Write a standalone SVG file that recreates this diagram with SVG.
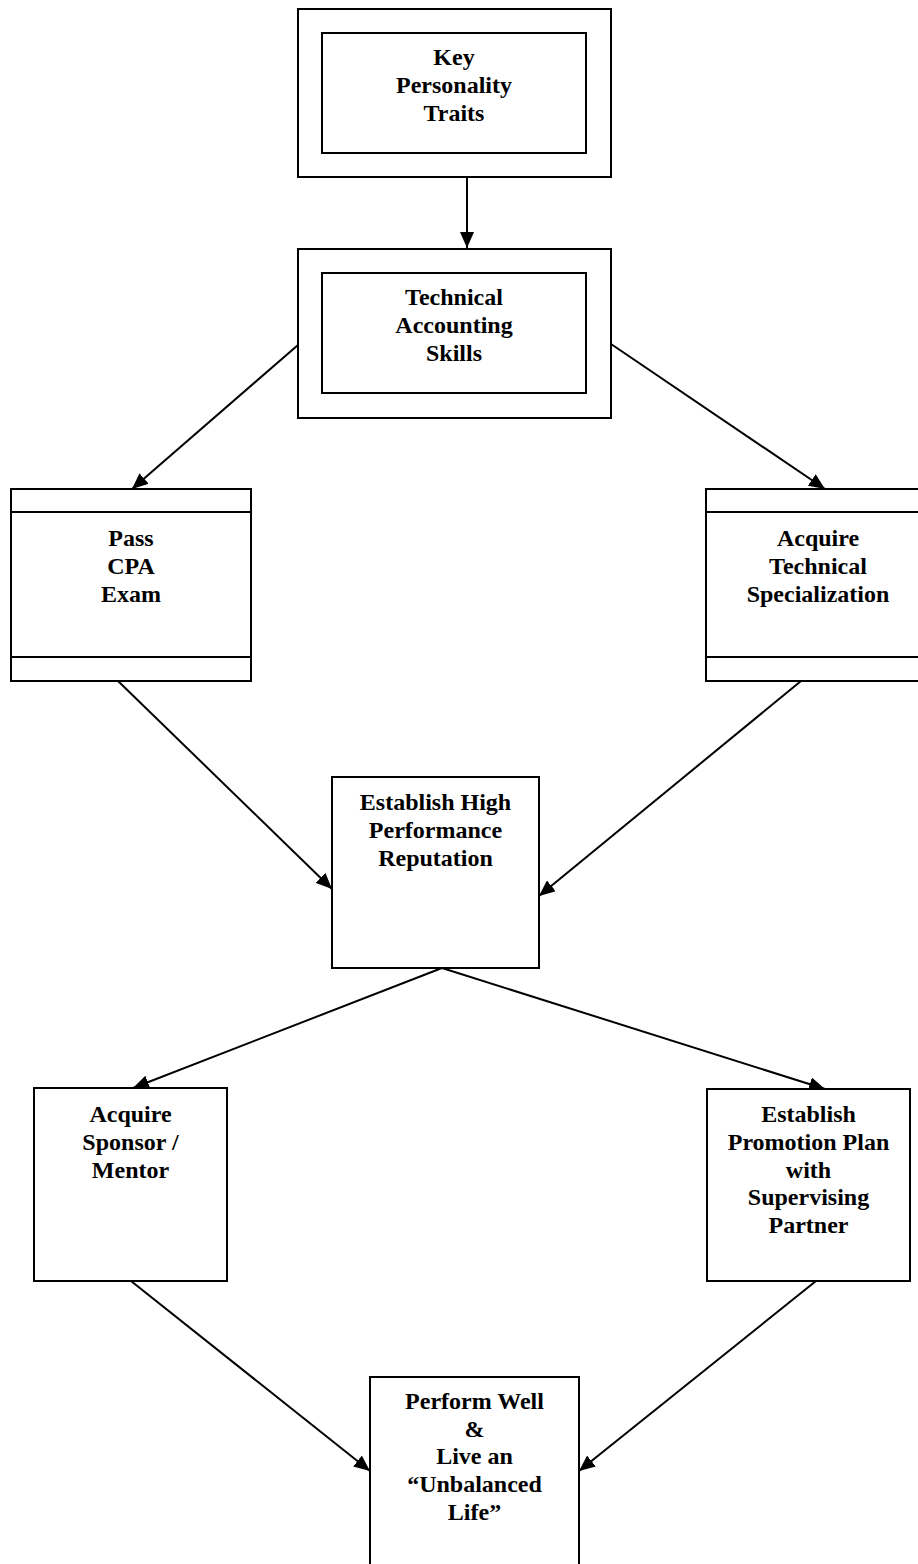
<svg xmlns="http://www.w3.org/2000/svg" width="918" height="1564" viewBox="0 0 918 1564">
<style>
.box{fill:#fff;stroke:#000;stroke-width:2}
.in{fill:none;stroke:#000;stroke-width:2}
.t{font-family:"Liberation Serif","Times New Roman",serif;font-weight:bold;font-size:24px;fill:#000;text-anchor:middle}
.c{stroke:#000;stroke-width:2;fill:none;marker-end:url(#ah)}
</style>
<defs>
<marker id="ah" markerUnits="userSpaceOnUse" markerWidth="17" markerHeight="14" refX="16" refY="7" orient="auto">
<path d="M0,0 L16,7 L0,14 z" fill="#000"/>
</marker>
</defs>
<rect width="918" height="1564" fill="#fff"/>
<g id="connectors">
<line class="c" x1="467" y1="177" x2="467" y2="248"/>
<line class="c" x1="298" y1="345" x2="132" y2="489"/>
<line class="c" x1="611" y1="344" x2="825" y2="489"/>
<line class="c" x1="118" y1="681" x2="332" y2="889"/>
<line class="c" x1="801" y1="681" x2="539" y2="896"/>
<line class="c" x1="442" y1="968" x2="133" y2="1088"/>
<line class="c" x1="442" y1="968" x2="825" y2="1089"/>
<line class="c" x1="131" y1="1281" x2="370" y2="1471"/>
<line class="c" x1="816" y1="1281" x2="579" y2="1471"/>
</g>
<g id="key-personality-traits">
<rect class="box" x="298" y="9" width="313" height="168"/>
<rect class="in" x="322" y="33" width="264" height="120"/>
<text class="t" x="454" y="65">Key</text>
<text class="t" x="454" y="93">Personality</text>
<text class="t" x="454" y="121">Traits</text>
</g>
<g id="technical-accounting-skills">
<rect class="box" x="298" y="249" width="313" height="169"/>
<rect class="in" x="322" y="273" width="264" height="120"/>
<text class="t" x="454" y="305">Technical</text>
<text class="t" x="454" y="333">Accounting</text>
<text class="t" x="454" y="361">Skills</text>
</g>
<g id="pass-cpa-exam">
<rect class="box" x="11" y="489" width="240" height="192"/>
<line class="in" x1="11" y1="512" x2="251" y2="512"/>
<line class="in" x1="11" y1="657" x2="251" y2="657"/>
<text class="t" x="131" y="546">Pass</text>
<text class="t" x="131" y="574">CPA</text>
<text class="t" x="131" y="602">Exam</text>
</g>
<g id="acquire-technical-specialization">
<rect class="box" x="706" y="489" width="224" height="192"/>
<line class="in" x1="706" y1="512" x2="930" y2="512"/>
<line class="in" x1="706" y1="657" x2="930" y2="657"/>
<text class="t" x="818" y="546">Acquire</text>
<text class="t" x="818" y="574">Technical</text>
<text class="t" x="818" y="602">Specialization</text>
</g>
<g id="establish-high-performance-reputation">
<rect class="box" x="332" y="777" width="207" height="191"/>
<text class="t" x="435.5" y="810">Establish High</text>
<text class="t" x="435.5" y="838">Performance</text>
<text class="t" x="435.5" y="866">Reputation</text>
</g>
<g id="acquire-sponsor-mentor">
<rect class="box" x="34" y="1088" width="193" height="193"/>
<text class="t" x="130.5" y="1122">Acquire</text>
<text class="t" x="130.5" y="1150">Sponsor /</text>
<text class="t" x="130.5" y="1178">Mentor</text>
</g>
<g id="establish-promotion-plan">
<rect class="box" x="707" y="1089" width="203" height="192"/>
<text class="t" x="808.5" y="1122">Establish</text>
<text class="t" x="808.5" y="1150">Promotion Plan</text>
<text class="t" x="808.5" y="1178">with</text>
<text class="t" x="808.5" y="1205">Supervising</text>
<text class="t" x="808.5" y="1233">Partner</text>
</g>
<g id="perform-well">
<rect class="box" x="370" y="1377" width="209" height="210"/>
<text class="t" x="474.5" y="1409">Perform Well</text>
<text class="t" x="474.5" y="1437">&amp;</text>
<text class="t" x="474.5" y="1464">Live an</text>
<text class="t" x="474.5" y="1492">“Unbalanced</text>
<text class="t" x="474.5" y="1520">Life”</text>
</g>
</svg>
